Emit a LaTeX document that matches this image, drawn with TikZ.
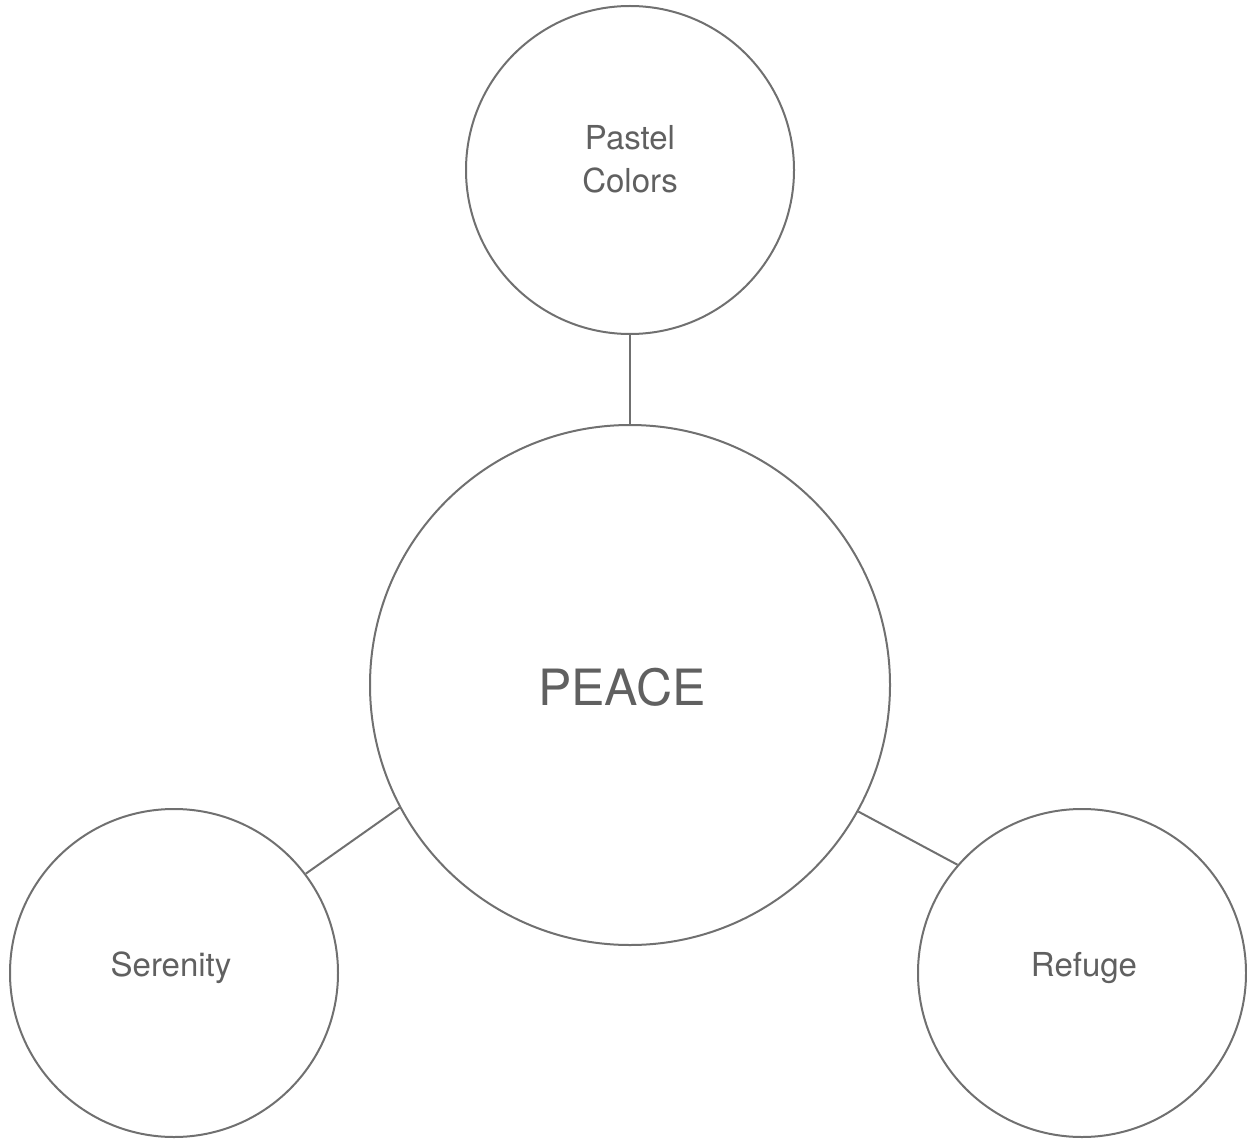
\documentclass[tikz,border=0pt]{standalone}
\usepackage{fontspec}
\setmainfont{TeX Gyre Heros}
\definecolor{linegray}{HTML}{707070}
\definecolor{textgray}{HTML}{606060}
\begin{document}
\begin{tikzpicture}[x=1pt,y=-1pt,
  bubble/.style={circle,draw=linegray,line width=2pt,inner sep=0pt},
  small/.style={bubble,minimum size=328pt},
  big/.style={bubble,minimum size=520pt},
  label text/.style={text=textgray,align=center,inner sep=0pt,font=\fontsize{33}{43}\selectfont},
  big text/.style={text=textgray,inner sep=0pt,font=\fontsize{50}{60}\selectfont},
  link/.style={draw=linegray,line width=2pt}]
\useasboundingbox (0,0) rectangle (1247,1139);
\node[big] (peace) at (630,685) {};
\node[small] (pastel) at (630,170) {};
\node[small] (serenity) at (174,973) {};
\node[small] (refuge) at (1082,973) {};
\node[big text] (peacetext) at (622,687) {PEACE};
\node[label text] (pasteltext) at (630,159) {Pastel\\Colors};
\node[label text] (serenitytext) at (171,968) {Serenity};
\node[label text] (refugetext) at (1084,968) {Refuge};
\draw[link] (pastel.south) -- (peace.north);
\draw[link] (serenity.37) -- (peace.208.5);
\draw[link] (refuge.139.6) -- (peace.331.5);
\end{tikzpicture}
\end{document}
